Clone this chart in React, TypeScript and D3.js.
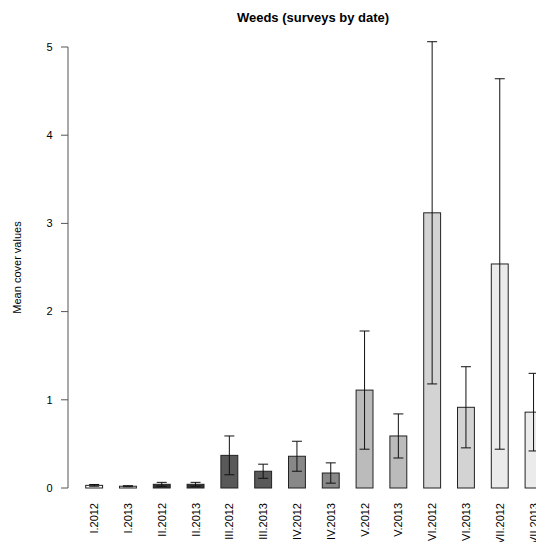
import * as d3 from "d3";

const categories = [
  "I.2012", "I.2013", "II.2012", "II.2013", "III.2012", "III.2013", "IV.2012",
  "IV.2013", "V.2012", "V.2013", "VI.2012", "VI.2013", "VII.2012", "VII.2013",
];
const means = [0.03, 0.02, 0.042, 0.042, 0.37, 0.19, 0.36, 0.17, 1.11, 0.59, 3.12, 0.915, 2.54, 0.86];
const errors = [0.01, 0.006, 0.022, 0.022, 0.22, 0.08, 0.17, 0.115, 0.67, 0.25, 1.94, 0.46, 2.1, 0.44];
const monthColors = ["#ffffff", "#333333", "#595959", "#888888", "#bbbbbb", "#d3d3d3", "#ebebeb"];
const yTicks = [0, 1, 2, 3, 4, 5];

const WIDTH = 536;
const HEIGHT = 542;
const FONT = "'Liberation Sans', Arial, Helvetica, sans-serif";

export default function App() {
  const y = d3.scaleLinear().domain([0, 5]).range([488, 47]);
  const x = d3
    .scaleBand<string>()
    .domain(categories)
    .range([77.25, 550.45])
    .paddingInner(0.5)
    .paddingOuter(0.25);
  const axisX = 68;

  return (
    <div style={{ position: "absolute", left: 0, top: 0, width: WIDTH, height: HEIGHT, overflow: "hidden" }}>
      <svg width={WIDTH} height={HEIGHT} style={{ display: "block", background: "#fff" }} fontFamily={FONT}>
        <text x={313} y={22} textAnchor="middle" fontSize={13} fontWeight="bold">
          Weeds (surveys by date)
        </text>
        <text
          transform={`translate(21,${(y(0) + y(5)) / 2}) rotate(-90)`}
          textAnchor="middle"
          fontSize={11}
        >
          Mean cover values
        </text>

        {/* y axis */}
        <line x1={axisX} x2={axisX} y1={y(0)} y2={y(5)} stroke="#555" />
        {yTicks.map((t) => (
          <g key={t}>
            <line x1={axisX - 7} x2={axisX} y1={y(t)} y2={y(t)} stroke="#555" />
            <text x={49.5} y={y(t)} dy="0.35em" textAnchor="middle" fontSize={11}>
              {t}
            </text>
          </g>
        ))}

        {/* bars */}
        {categories.map((c, i) => {
          const x0 = x(c) ?? 0;
          const bw = x.bandwidth();
          const cx = x0 + bw / 2;
          const top = y(means[i] + errors[i]);
          const bot = y(Math.max(0, means[i] - errors[i]));
          return (
            <g key={c}>
              <rect
                x={x0}
                y={y(means[i])}
                width={bw}
                height={y(0) - y(means[i])}
                fill={monthColors[Math.floor(i / 2)]}
                stroke="#222"
                strokeWidth={1}
              />
              <line x1={cx} x2={cx} y1={top} y2={bot} stroke="#111" />
              <line x1={cx - 5} x2={cx + 5} y1={top} y2={top} stroke="#111" />
              <line x1={cx - 5} x2={cx + 5} y1={bot} y2={bot} stroke="#111" />
              <text
                transform={`translate(${cx + 4},503) rotate(-90)`}
                textAnchor="end"
                fontSize={11}
              >
                {c}
              </text>
            </g>
          );
        })}
      </svg>
    </div>
  );
}
